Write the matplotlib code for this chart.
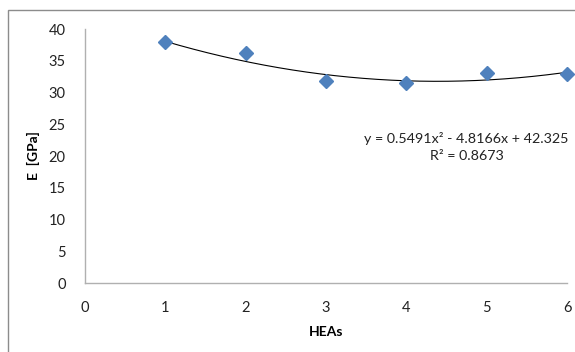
import numpy as np
import matplotlib.pyplot as plt
from matplotlib.patches import Rectangle

plt.rcParams['font.family'] = ['Lato', 'DejaVu Sans']

# data
heas = [1, 2, 3, 4, 5, 6]
modulus = [37.9, 36.2, 31.8, 31.5, 33.1, 32.9]
fit_coef = [0.5491, -4.8166, 42.325]
r_squared = 0.8673

fig = plt.figure(figsize=(5.75, 3.52), dpi=100)
ax = fig.add_axes([0.1478, 0.196, 0.8383, 0.7216])

xs = np.linspace(min(heas), max(heas), 200)
ax.plot(xs, np.polyval(fit_coef, xs), color='black', lw=0.8, zorder=2)
ax.plot(heas, modulus, 'D', color='#4f81bd', ms=7.5, zorder=3, clip_on=False)

ax.set_xlim(0, 6)
ax.set_ylim(0, 40)
ax.set_xticks(range(0, 7))
ax.set_yticks(range(0, 41, 5))
ax.tick_params(length=0, labelsize=10.5, colors='#222222')
ax.tick_params(axis='x', pad=13)
ax.tick_params(axis='y', pad=14)
for s in ['top', 'right']:
    ax.spines[s].set_visible(False)
for s in ['left', 'bottom']:
    ax.spines[s].set_color('#b0b0b0')
    ax.spines[s].set_linewidth(1.0)

ax.set_xlabel('HEAs', fontweight='bold', fontsize=10, labelpad=8)
ax.set_ylabel('E  [GPa]', fontweight='bold', fontsize=10, labelpad=6)

eq = 'y = %.4fx\u00b2 - %.4fx + %.3f\nR\u00b2 = %.4f' % (fit_coef[0], -fit_coef[1], fit_coef[2], r_squared)
ax.text(4.75, 21.4, eq, ha='center', va='center', fontsize=10.3, color='#222222', linespacing=1.55)

fig.patches.append(Rectangle((8 / 575, -0.1), 1.2, 1 - 10 / 352 + 0.1, transform=fig.transFigure,
                             fill=False, edgecolor='#8c8c8c', lw=1.0))

fig.savefig('out.png', dpi=100)
